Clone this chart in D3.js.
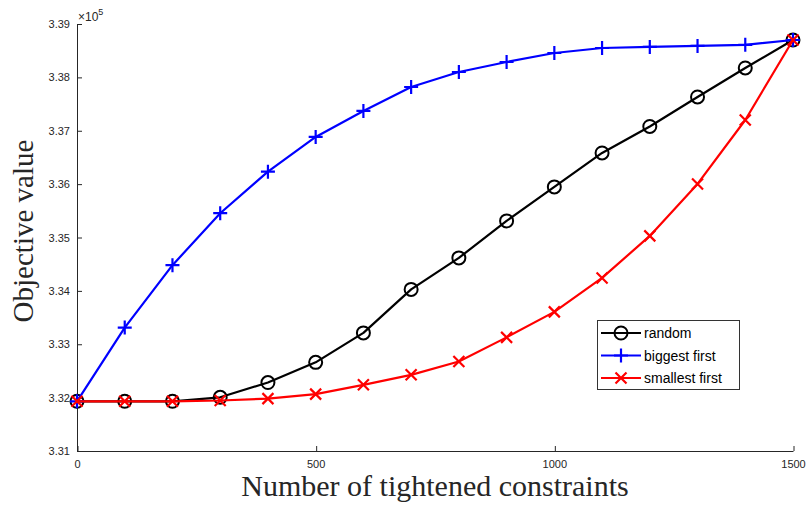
<!DOCTYPE html>
<html><head><meta charset="utf-8">
<script src="https://cdn.jsdelivr.net/npm/d3@7"></script>
<style>body{margin:0;background:#fff}svg{display:block}</style>
</head><body>
<script>
const xs = [0,100,200,300,400,500,600,700,800,900,1000,1100,1200,1300,1400,1500];
const randomVals = [3.31931,3.31931,3.31931,3.32006,3.32283,3.32661,3.33213,3.34028,3.34618,3.35311,3.35948,3.36584,3.37080,3.37633,3.38176,3.38700];
const biggestVals = [3.31931,3.33313,3.34481,3.35455,3.36234,3.36884,3.37371,3.37820,3.38101,3.38288,3.38457,3.38550,3.38570,3.38590,3.38610,3.38700];
const smallestVals = [3.31931,3.31931,3.31931,3.31946,3.31981,3.32066,3.32240,3.32427,3.32676,3.33129,3.33607,3.34243,3.35030,3.36004,3.37202,3.38700];
const xTicks = [0,500,1000,1500];
const yTicks = [3.31,3.32,3.33,3.34,3.35,3.36,3.37,3.38,3.39];
const seriesNames = ["random","biggest first","smallest first"];
const seriesColors = ["#000000","#0000ff","#ff0000"];
const seriesMarkers = ["circle","plus","cross"];

const W=806,H=506;
const svg=d3.select("body").append("svg").attr("width",W).attr("height",H);
const x=d3.scaleLinear().domain([0,1500]).range([77,793]);
const y=d3.scaleLinear().domain([3.31,3.39]).range([451,24]);
const axisColor="#262626";

// axes
const gx=svg.append("g").attr("transform","translate(0,451)")
  .call(d3.axisBottom(x).tickValues(xTicks).tickSize(-5).tickPadding(9).tickFormat(d3.format("d")));
const gy=svg.append("g").attr("transform","translate(77,0)")
  .call(d3.axisLeft(y).tickValues(yTicks).tickSize(-5).tickPadding(7).tickFormat(d3.format(".2f")));
[gx,gy].forEach(g=>{
  g.select(".domain").attr("stroke",axisColor).attr("stroke-width",1).attr("d",
     g===gx?"M77.5,0.5H793.5":"M0.5,24V451.5");
  g.selectAll(".tick line").attr("stroke",axisColor);
  g.selectAll(".tick text").attr("fill","#262626").style("font-family","'Liberation Sans',Arial,sans-serif").style("font-size","11px");
});
gx.selectAll(".tick line").attr("transform","translate(0.5,0)");

// exponent
const ex=svg.append("text").attr("x",78).attr("y",21).attr("fill","#262626")
  .style("font-family","'Liberation Sans',Arial,sans-serif").style("font-size","12px");
ex.append("tspan").text("\u00d710");
ex.append("tspan").attr("dy",-6).style("font-size","9px").text("5");

// axis labels
svg.append("text").attr("x",435).attr("y",496).attr("text-anchor","middle")
  .style("font-family","'Liberation Serif','DejaVu Serif',serif").style("font-size","30px").attr("fill","#262626")
  .text("Number of tightened constraints");
svg.append("text").attr("transform","translate(33,231) rotate(-90)").attr("text-anchor","middle")
  .style("font-family","'Liberation Serif','DejaVu Serif',serif").style("font-size","29px").attr("fill","#262626")
  .text("Objective value");

function drawMarker(g,type,cx,cy,color){
  if(type==="circle"){
    g.append("circle").attr("cx",cx).attr("cy",cy).attr("r",6.5).attr("fill","none").attr("stroke",color).attr("stroke-width",2);
  } else if(type==="plus"){
    const s=7;
    g.append("path").attr("d",`M${cx-s},${cy}H${cx+s}M${cx},${cy-s}V${cy+s}`).attr("stroke",color).attr("stroke-width",2.2);
  } else {
    const s=5.5;
    g.append("path").attr("d",`M${cx-s},${cy-s}L${cx+s},${cy+s}M${cx-s},${cy+s}L${cx+s},${cy-s}`).attr("stroke",color).attr("stroke-width",2.2);
  }
}

const allVals=[randomVals,biggestVals,smallestVals];
const line=d3.line().x((d,i)=>x(xs[i])).y(d=>y(d));
allVals.forEach((vals,k)=>{
  const g=svg.append("g");
  g.append("path").attr("d",line(vals)).attr("fill","none").attr("stroke",seriesColors[k]).attr("stroke-width",2.2).attr("stroke-linejoin","round");
  vals.forEach((v,i)=>drawMarker(g,seriesMarkers[k],x(xs[i]),y(v),seriesColors[k]));
});

// legend
const lg=svg.append("g");
lg.append("rect").attr("x",597.5).attr("y",320.5).attr("width",142).attr("height",69).attr("fill","#fff").attr("stroke","#333").attr("stroke-width",1);
seriesNames.forEach((n,k)=>{
  const cy=333+k*22.5;
  lg.append("line").attr("x1",601).attr("x2",641).attr("y1",cy).attr("y2",cy).attr("stroke",seriesColors[k]).attr("stroke-width",2.2);
  drawMarker(lg,seriesMarkers[k],621,cy,seriesColors[k]);
  lg.append("text").attr("x",644).attr("y",cy+5).attr("fill","#000")
    .style("font-family","'Liberation Sans',Arial,sans-serif").style("font-size","14px").text(n);
});
</script>
</body></html>
